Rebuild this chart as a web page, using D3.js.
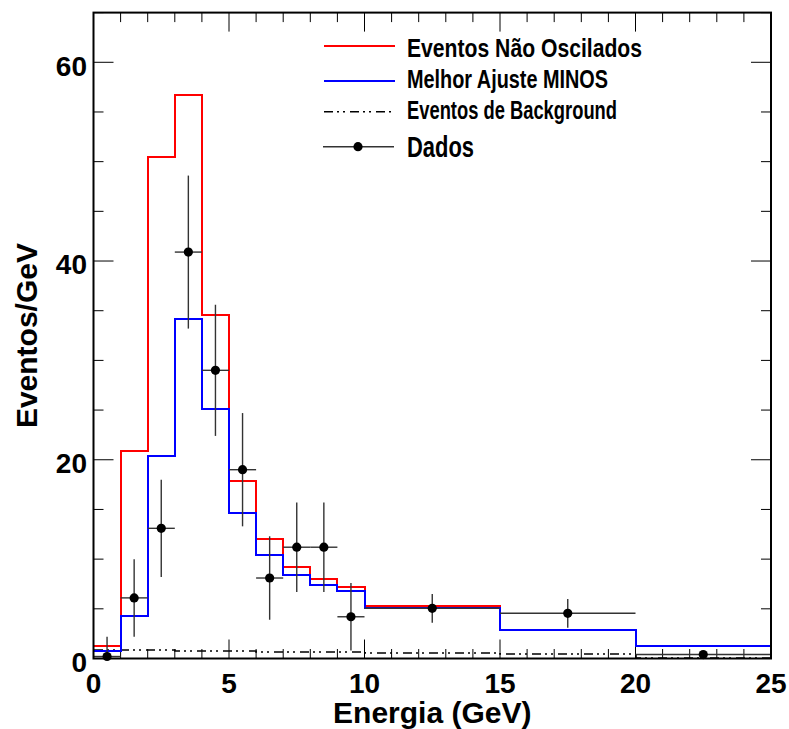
<!DOCTYPE html>
<html>
<head>
<meta charset="utf-8">
<script src="https://cdn.jsdelivr.net/npm/d3@7"></script>
<style>
  body { margin: 0; background: #fff; }
  text { font-family: "Liberation Sans", Arial, sans-serif; font-weight: bold; }
</style>
</head>
<body>
<svg id="chart" width="789" height="729"></svg>
<script>
// bin edges (GeV) and histogram contents (events/GeV)
const edges = [0, 1, 2, 3, 4, 5, 6, 7, 8, 9, 10, 15, 20, 25];
const naoOscilados = [1.3, 20.9, 50.5, 56.7, 34.6, 17.9, 12.0, 9.2, 8.0, 7.2, 5.3, 2.9, 1.3];
const melhorAjuste = [0.8, 4.3, 20.4, 34.2, 25.1, 14.6, 10.4, 8.4, 7.4, 6.8, 5.05, 2.9, 1.3];
const background = [0.9, 0.85, 0.85, 0.8, 0.8, 0.75, 0.7, 0.7, 0.65, 0.65, 0.55, 0.45, 0.05];

// data points
const dadosX = [0.5, 1.5, 2.5, 3.5, 4.5, 5.5, 6.5, 7.5, 8.5, 9.5, 12.5, 17.5, 22.5];
const dadosY = [0.2, 6.1, 13.1, 40.9, 29.0, 19.0, 8.1, 11.2, 11.2, 4.2, 5.05, 4.55, 0.4];
const dadosErrHi = [2.0, 3.9, 4.9, 7.7, 6.6, 5.7, 4.2, 4.5, 4.5, 3.4, 1.45, 1.45, 0.3];
const dadosErrLo = [0.2, 3.9, 4.9, 7.7, 6.6, 5.7, 4.2, 4.5, 4.5, 3.4, 1.45, 1.45, 0.3];
const dadosXErr = [0.5, 0.5, 0.5, 0.5, 0.5, 0.5, 0.5, 0.5, 0.5, 0.5, 2.5, 2.5, 2.5];

const xTicks = [0, 5, 10, 15, 20, 25];
const yTicks = [0, 20, 40, 60];

const legendLabels = ["Eventos Não Oscilados", "Melhor Ajuste MINOS", "Eventos de Background", "Dados"];

const mLeft = 93.5, mRight = 771, mTop = 12.6, mBottom = 658.5;
const svg = d3.select("#chart");

const x = d3.scaleLinear().domain([0, 25]).range([mLeft, mRight]);
const y = d3.scaleLinear().domain([0, 65]).range([mBottom, mTop]);

const bgDash = "9,4,2,4,2,5";

// ticks (ROOT style, inside frame on all four sides)
const xMinor = d3.range(0, 26, 1);
const yMinor = d3.range(0, 66, 5);
const gt = svg.append("g").attr("stroke", "#000").attr("stroke-width", 1);
xMinor.forEach(v => {
  const len = v % 5 === 0 ? 19 : 9.5;
  gt.append("line").attr("x1", x(v)).attr("x2", x(v)).attr("y1", mBottom).attr("y2", mBottom - len);
  gt.append("line").attr("x1", x(v)).attr("x2", x(v)).attr("y1", mTop).attr("y2", mTop + len);
});
yMinor.forEach(v => {
  const len = v % 20 === 0 ? 20 : 10;
  gt.append("line").attr("y1", y(v)).attr("y2", y(v)).attr("x1", mLeft).attr("x2", mLeft + len);
  gt.append("line").attr("y1", y(v)).attr("y2", y(v)).attr("x1", mRight).attr("x2", mRight - len);
});

// histogram outlines (snapped to whole pixels so overlapping bins hide cleanly)
function stepPoints(vals) {
  return edges.map((e, i) => [e, vals[Math.min(i, vals.length - 1)]]);
}
const line = d3.line().x(d => Math.round(x(d[0]))).y(d => Math.round(y(d[1]))).curve(d3.curveStepAfter);

svg.append("path").datum(stepPoints(background))
  .attr("d", line).attr("fill", "none").attr("stroke", "#000")
  .attr("stroke-width", 1.6).attr("stroke-dasharray", bgDash);
svg.append("path").datum(stepPoints(naoOscilados))
  .attr("d", line).attr("fill", "none").attr("stroke", "#ff0000").attr("stroke-width", 2);
svg.append("path").datum(stepPoints(melhorAjuste))
  .attr("d", line).attr("fill", "none").attr("stroke", "#0000ff").attr("stroke-width", 2);

// data points with error bars
const gd = svg.append("g");
dadosX.forEach((cx, i) => {
  gd.append("line").attr("x1", x(cx)).attr("x2", x(cx))
    .attr("y1", y(dadosY[i] + dadosErrHi[i])).attr("y2", y(dadosY[i] - dadosErrLo[i]))
    .attr("stroke", "#333").attr("stroke-width", 1.4);
  gd.append("line").attr("x1", x(cx - dadosXErr[i])).attr("x2", x(cx + dadosXErr[i]))
    .attr("y1", y(dadosY[i])).attr("y2", y(dadosY[i]))
    .attr("stroke", "#333").attr("stroke-width", 1.4);
  gd.append("circle").attr("cx", x(cx)).attr("cy", y(dadosY[i])).attr("r", 4.6).attr("fill", "#000");
});

// frame
svg.append("rect").attr("x", mLeft).attr("y", mTop)
  .attr("width", mRight - mLeft).attr("height", mBottom - mTop)
  .attr("fill", "none").attr("stroke", "#000").attr("stroke-width", 2);

// tick labels
svg.selectAll(".xl").data(xTicks).enter().append("text")
  .attr("x", d => x(d)).attr("y", mBottom + 34.5)
  .attr("text-anchor", "middle").attr("font-size", 28).text(d => d);
svg.selectAll(".yl").data(yTicks).enter().append("text")
  .attr("x", mLeft - 6.5).attr("y", d => y(d) + 13.4)
  .attr("text-anchor", "end").attr("font-size", 28).text(d => d);

// axis titles
svg.append("text").attr("x", (mLeft + mRight) / 2).attr("y", 723)
  .attr("text-anchor", "middle").attr("font-size", 30).text("Energia (GeV)");
svg.append("text").attr("transform", `translate(37.3,${(mTop + mBottom) / 2}) rotate(-90)`)
  .attr("text-anchor", "middle").attr("font-size", 30).text("Eventos/GeV");

// legend
const lx0 = 324, lx1 = 395, tx = 407;
const rowsY = [46, 81, 111.7, 146.7];
const baseY = [56.7, 88.3, 118.8, 156.5];
const widths = [235, 201, 210, 67];
const fsz = [25, 25, 25, 30];
const lg = svg.append("g");
lg.append("line").attr("x1", lx0).attr("x2", lx1).attr("y1", rowsY[0]).attr("y2", rowsY[0])
  .attr("stroke", "#ff0000").attr("stroke-width", 2);
lg.append("line").attr("x1", lx0).attr("x2", lx1).attr("y1", rowsY[1]).attr("y2", rowsY[1])
  .attr("stroke", "#0000ff").attr("stroke-width", 2);
lg.append("line").attr("x1", lx0).attr("x2", lx1).attr("y1", rowsY[2]).attr("y2", rowsY[2])
  .attr("stroke", "#000").attr("stroke-width", 1.6).attr("stroke-dasharray", bgDash);
lg.append("line").attr("x1", lx0 - 1).attr("x2", lx1 - 1).attr("y1", rowsY[3]).attr("y2", rowsY[3])
  .attr("stroke", "#333").attr("stroke-width", 1.4);
lg.append("circle").attr("cx", 358).attr("cy", rowsY[3]).attr("r", 4.6).attr("fill", "#000");
legendLabels.forEach((t, i) => {
  lg.append("text").attr("x", tx).attr("y", baseY[i]).attr("font-size", fsz[i])
    .attr("textLength", widths[i]).attr("lengthAdjust", "spacingAndGlyphs").text(t);
});
</script>
</body>
</html>
